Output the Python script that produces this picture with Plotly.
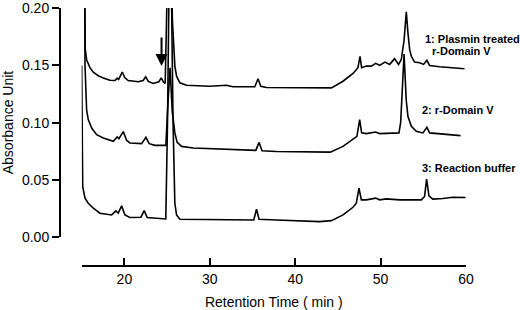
import plotly.graph_objects as go

# Trace 1: Plasmin treated r-Domain V
t1 = [15.25, 15.42, 15.58, 15.97, 16.36, 16.94, 17.53, 18.3, 18.9, 19.16, 19.33, 19.75, 20.06, 20.45,
      21.62, 22.2, 22.49, 22.8, 23.37, 24.04, 24.31, 24.59, 24.78, 25.0, 25.15, 25.3, 25.45, 25.62,
      25.91, 26.11, 26.5, 27.28, 30.0, 31.96, 32.7, 35.27, 35.65, 35.97, 36.64, 42.87, 44.24, 45.6,
      46.77, 47.35, 47.59, 47.78, 48.33, 48.92, 49.42, 49.89, 50.51, 51.06, 51.64, 52.11, 52.43,
      52.75, 53.01, 53.2, 53.4, 53.6, 53.98, 54.57, 55.04, 55.42, 55.74, 56.9, 58.46, 59.83]
v1 = [0.300, 0.164, 0.155, 0.148, 0.144, 0.141, 0.139, 0.137, 0.1368, 0.1389, 0.1377, 0.1441, 0.1392, 0.1368,
      0.1357, 0.1368, 0.1401, 0.136, 0.1342, 0.1357, 0.1392, 0.1354, 0.1342, 0.180, 0.260, 0.320, 0.260, 0.190,
      0.1494, 0.1406, 0.1348, 0.1327, 0.1318, 0.1327, 0.1313, 0.1313, 0.1383, 0.1318, 0.1307, 0.1304, 0.1304, 0.1362,
      0.143, 0.148, 0.158, 0.148, 0.1494, 0.1494, 0.1518, 0.150, 0.1529, 0.1509, 0.1559, 0.1509, 0.1553,
      0.172, 0.1968, 0.1787, 0.164, 0.158, 0.1529, 0.1523, 0.1509, 0.1545, 0.150, 0.1488, 0.148, 0.1471]

# Trace 2: r-Domain V
t2 = [15.3, 15.39, 15.58, 15.77, 16.17, 16.75, 17.53, 18.7, 19.16, 19.36, 19.87, 20.26, 20.65, 22.02,
      22.52, 22.91, 23.57, 24.86, 25.05, 25.35, 25.6, 25.91, 26.18, 26.7, 28.05, 31.96, 34.3, 35.39,
      35.77, 36.12, 37.8, 42.87, 44.1, 45.6, 46.77, 47.23, 47.55, 47.78, 48.33, 49.42, 49.89, 51.06,
      52.15, 52.35, 52.75, 53.0, 53.2, 53.6, 54.18, 54.96, 55.42, 55.74, 56.9, 59.36]
v2 = [0.300, 0.150, 0.111, 0.1026, 0.0953, 0.0895, 0.0866, 0.0836, 0.0875, 0.086, 0.0921, 0.0845, 0.0822, 0.0816,
      0.0871, 0.0816, 0.0801, 0.0801, 0.110, 0.148, 0.110, 0.091, 0.0827, 0.0792, 0.0778, 0.0769, 0.0763, 0.0757,
      0.0827, 0.0754, 0.0748, 0.074, 0.0742, 0.0792, 0.0851, 0.088, 0.1026, 0.091, 0.0904, 0.0918, 0.0904, 0.091,
      0.091, 0.100, 0.160, 0.120, 0.1055, 0.0968, 0.0924, 0.091, 0.0959, 0.091, 0.0901, 0.0886]

# Trace 3: Reaction buffer
t3 = [15.0, 15.12, 15.39, 15.77, 16.36, 17.14, 18.5, 19.01, 19.28, 19.68, 20.06, 20.65, 21.94, 22.32,
      22.67, 24.16, 24.85, 25.05, 25.2, 25.35, 25.5, 25.7, 25.91, 26.11, 26.5, 30.0, 34.3, 35.15, 35.47,
      35.77, 37.8, 42.87, 44.24, 45.6, 46.77, 47.16, 47.47, 47.75, 48.33, 49.42, 49.89, 50.67, 52.23,
      54.77, 55.15, 55.39, 55.66, 56.12, 57.29, 58.46, 59.95]
v3 = [0.150, 0.044, 0.034, 0.0295, 0.0252, 0.0208, 0.0193, 0.0228, 0.0208, 0.0272, 0.0193, 0.017, 0.0173, 0.0231,
      0.017, 0.0158, 0.0158, 0.100, 0.220, 0.300, 0.220, 0.100, 0.0295, 0.0193, 0.0155, 0.0155, 0.015, 0.0149, 0.0243,
      0.0155, 0.0149, 0.0134, 0.0143, 0.0193, 0.026, 0.0295, 0.0427, 0.0325, 0.0325, 0.034, 0.0325, 0.0333, 0.0325,
      0.0325, 0.0354, 0.0506, 0.036, 0.0331, 0.0336, 0.0348, 0.0345]

x_ticks = [20, 30, 40, 50, 60]
y_ticks = [0.00, 0.05, 0.10, 0.15, 0.20]
y_tick_text = ["0.00", "0.05", "0.10", "0.15", "0.20"]

labels = [
    ("1: Plasmin treated", 54.92, 0.1732),
    ("r-Domain V", 55.74, 0.1627),
    ("2: r-Domain V", 54.57, 0.1114),
    ("3: Reaction buffer", 54.65, 0.0603),
]
arrow_x, arrow_y = 24.35, 0.1494

FONT = "Liberation Sans, Arial, Helvetica, sans-serif"

fig = go.Figure()
for t, v in [(t1, v1), (t2, v2), (t3, v3)]:
    fig.add_trace(go.Scatter(x=t, y=v, mode="lines",
                             line=dict(color="black", width=1.6),
                             showlegend=False, hoverinfo="skip"))

for text, x, y in labels:
    fig.add_annotation(x=x, y=y, xref="x", yref="y", text="<b>%s</b>" % text,
                       showarrow=False, xanchor="left", yanchor="middle",
                       font=dict(family=FONT, size=11, color="black"))

fig.add_annotation(x=arrow_x, y=arrow_y, xref="x", yref="y", ax=0, ay=-30,
                   showarrow=True, arrowhead=2, arrowsize=1.2, arrowwidth=2,
                   arrowcolor="black", text="")

fig.update_layout(
    width=520, height=310,
    margin=dict(l=60, r=54, t=8, b=44),
    paper_bgcolor="white", plot_bgcolor="white",
    font=dict(family=FONT, size=14, color="black"),
    xaxis=dict(range=[15, 60.001], domain=[0.0534, 1], anchor="free", position=0,
               showline=True, linecolor="black", linewidth=2,
               ticks="inside", ticklen=7, tickwidth=1.5, tickcolor="black",
               tickvals=x_ticks, showgrid=False, zeroline=False,
               title=dict(text="Retention Time ( min )", font=dict(size=14), standoff=10),
               automargin=False),
    yaxis=dict(range=[0, 0.2002], domain=[0.1124, 1], anchor="free", position=0,
               showline=True, linecolor="black", linewidth=2,
               ticks="outside", ticklen=7, tickwidth=2, tickcolor="black",
               tickvals=y_ticks, ticktext=y_tick_text, showgrid=False, zeroline=False,
               title=dict(text="Absorbance Unit", font=dict(size=14), standoff=6),
               automargin=False),
)

fig.write_html("out.html", config={"displayModeBar": False},
               post_script="document.body.style.margin='0';document.body.style.overflow='hidden';")
